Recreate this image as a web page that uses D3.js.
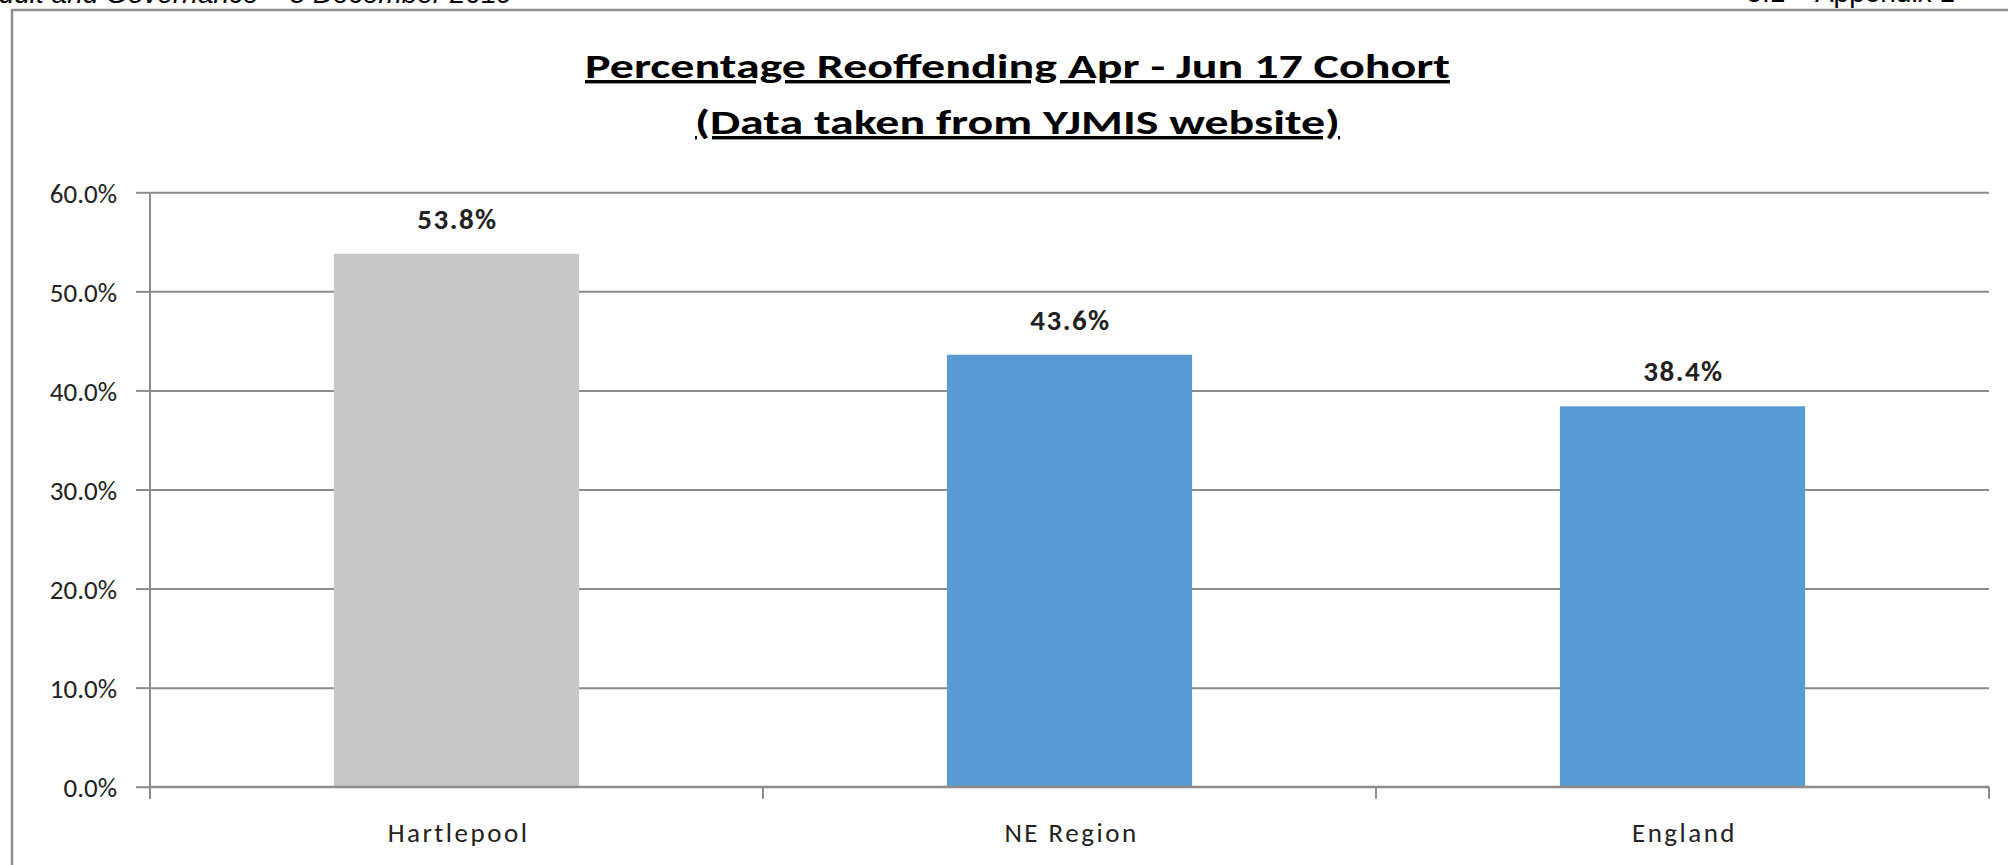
<!DOCTYPE html>
<html lang="en">
<head>
    <meta charset="UTF-8">
    <title>Percentage Reoffending</title>
    <script src="https://d3js.org/d3.v7.min.js"></script>
    <style>
        body { margin: 0; background: #fff; overflow: hidden; }
        svg { display: block; }
    </style>
</head>
<body>

<svg id="chart"></svg>

<script>
// Daten
var categories = ["Hartlepool", "NE Region", "England"];
var values = [0.538, 0.436, 0.384];
var barColors = ["#c8c8c8", "#5b9bd5", "#5b9bd5"];
var yTicks = [0, 0.1, 0.2, 0.3, 0.4, 0.5, 0.6];
var titleLines = ["Percentage Reoffending  Apr - Jun 17 Cohort", "(Data taken from YJMIS website)"];

var width = 2008, height = 865;
var font = "Carlito, Lato, sans-serif";

var svg = d3.select("#chart")
    .attr("width", width)
    .attr("height", height);

// Kopfzeile des Dokuments (oben abgeschnitten)
svg.append("text")
    .attr("x", -20).attr("y", 3)
    .style("font-family", "'Liberation Sans', Arial, sans-serif")
    .style("font-style", "italic")
    .style("font-size", "28px")
    .text("Audit and Governance – 5 December 2019");

svg.append("text")
    .attr("x", 1955).attr("y", 2)
    .attr("text-anchor", "end")
    .style("font-family", "'Liberation Sans', Arial, sans-serif")
    .style("font-size", "28px")
    .text("5.1 – Appendix 1");

// Rahmen
svg.append("rect")
    .attr("x", 12).attr("y", 10)
    .attr("width", 2100).attr("height", 1000)
    .attr("fill", "none")
    .attr("stroke", "#8f8f8f")
    .attr("stroke-width", 2.5);

// Titel
var titleY = [78, 134];
var titleW = [865, 645];
titleLines.forEach(function(t, i) {
    svg.append("text")
        .attr("x", 1017.5).attr("y", titleY[i])
        .attr("text-anchor", "middle")
        .attr("textLength", titleW[i])
        .attr("lengthAdjust", "spacingAndGlyphs")
        .style("font-family", font)
        .style("font-weight", "bold")
        .style("font-size", "34px")
        .style("text-decoration", "underline")
        .text(t);
});

// Skalen
var plotLeft = 150, plotRight = 1989, plotTop = 192.3, plotBottom = 786.7;

var x = d3.scaleBand()
    .domain(categories)
    .range([plotLeft, plotRight])
    .paddingInner(0.6)
    .paddingOuter(0.3);

var y = d3.scaleLinear()
    .domain([0, 0.6])
    .range([plotBottom, plotTop]);

// Gitternetzlinien
svg.append("g")
    .attr("transform", "translate(" + plotLeft + ",0)")
    .call(d3.axisLeft(y).tickValues(yTicks).tickSize(-(plotRight - plotLeft)).tickFormat(""))
    .call(function(g) { g.select(".domain").remove(); })
    .selectAll("line")
    .attr("stroke", "#8c8c8c")
    .attr("stroke-width", 2);

// Balken
svg.selectAll(".bar")
    .data(values)
    .enter().append("rect")
    .attr("class", "bar")
    .attr("x", function(d, i) { return x(categories[i]); })
    .attr("y", function(d) { return y(d); })
    .attr("width", x.bandwidth())
    .attr("height", function(d) { return y(0) - y(d); })
    .attr("fill", function(d, i) { return barColors[i]; });

// Y-Achse
var yAxis = svg.append("g")
    .attr("transform", "translate(" + plotLeft + ",0)")
    .call(d3.axisLeft(y).tickValues(yTicks).tickSize(14).tickPadding(19).tickFormat(d3.format(".1%")));
yAxis.select(".domain").remove();
yAxis.selectAll("line").attr("stroke", "#8c8c8c").attr("stroke-width", 2);
yAxis.selectAll("text")
    .attr("dy", "0.36em")
    .attr("fill", "#222")
    .style("font-family", font)
    .style("font-size", "27px");

svg.append("line")
    .attr("x1", plotLeft).attr("x2", plotLeft)
    .attr("y1", y(0.6)).attr("y2", y(0) + 12)
    .attr("stroke", "#8c8c8c").attr("stroke-width", 2);

// X-Achse
svg.append("line")
    .attr("x1", plotLeft).attr("x2", plotRight)
    .attr("y1", y(0)).attr("y2", y(0))
    .attr("stroke", "#8c8c8c").attr("stroke-width", 2);

var bounds = d3.range(categories.length + 1).map(function(i) { return plotLeft + i * x.step(); });
svg.selectAll(".xtick")
    .data(bounds)
    .enter().append("line")
    .attr("class", "xtick")
    .attr("x1", function(d) { return d; }).attr("x2", function(d) { return d; })
    .attr("y1", y(0)).attr("y2", y(0) + 12)
    .attr("stroke", "#8c8c8c").attr("stroke-width", 2);

svg.selectAll(".xlabel")
    .data(categories)
    .enter().append("text")
    .attr("class", "xlabel")
    .attr("x", function(d) { return x(d) + x.bandwidth() / 2 + 2; })
    .attr("y", 842)
    .attr("text-anchor", "middle")
    .attr("fill", "#222")
    .style("font-family", font)
    .style("font-size", "27px")
    .style("letter-spacing", "2.5px")
    .text(function(d) { return d; });

// Datenbeschriftungen
svg.selectAll(".vlabel")
    .data(values)
    .enter().append("text")
    .attr("class", "vlabel")
    .attr("x", function(d, i) { return x(categories[i]) + x.bandwidth() / 2 + 1; })
    .attr("y", function(d) { return y(d) - 25; })
    .attr("text-anchor", "middle")
    .attr("fill", "#222")
    .style("font-family", font)
    .style("font-weight", "bold")
    .style("font-size", "29px")
    .style("letter-spacing", "1.5px")
    .text(function(d) { return d3.format(".1%")(d); });
</script>

</body>
</html>
